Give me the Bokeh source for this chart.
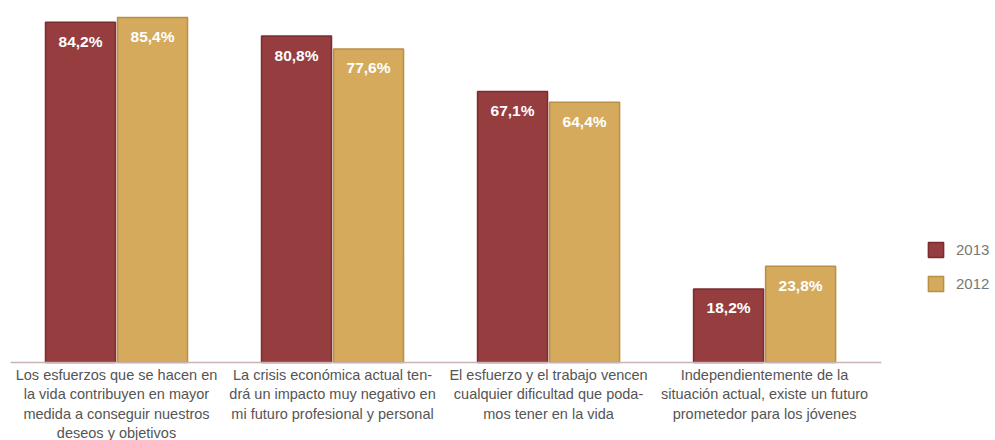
from bokeh.plotting import figure
from bokeh.models import ColumnDataSource, Range1d, Legend, LegendItem
from bokeh.core.properties import value
from bokeh.embed import file_html
from bokeh.resources import INLINE

categories = [
    "Los esfuerzos que se hacen en\nla vida contribuyen en mayor\nmedida a conseguir nuestros\ndeseos y objetivos",
    "La crisis económica actual ten-\ndrá un impacto muy negativo en\nmi futuro profesional y personal",
    "El esfuerzo y el trabajo vencen\ncualquier dificultad que poda-\nmos tener en la vida",
    "Independientemente de la\nsituación actual, existe un futuro\nprometedor para los jóvenes",
]
values_2013 = [84.2, 80.8, 67.1, 18.2]
values_2012 = [85.4, 77.6, 64.4, 23.8]
series_names = ["2013", "2012"]
colors = ["#963d40", "#d5aa5c"]
edge_colors = ["#7a2c2f", "#b88f45"]

def fmt(v):
    return f"{v:.1f}".replace(".", ",") + "%"

idx = list(range(len(categories)))
off = 0.1667
bw = 0.324

p = figure(width=995, height=440, output_backend="svg", toolbar_location=None,
           x_range=Range1d(-0.537, 4.069), y_range=Range1d(-19.3, 89.6),
           min_border=0, min_border_left=0, min_border_right=0,
           min_border_top=0, min_border_bottom=0)
p.axis.visible = False
p.grid.visible = False
p.outline_line_color = None
p.background_fill_color = "white"

renderers = []
for vals, col, ecol, sign in [(values_2013, colors[0], edge_colors[0], -1),
                              (values_2012, colors[1], edge_colors[1], 1)]:
    src = ColumnDataSource(dict(x=[i + sign * off for i in idx], top=vals,
                                lab=[fmt(v) for v in vals]))
    r = p.vbar(x="x", top="top", bottom=0, width=bw, source=src,
               fill_color=col, line_color=ecol, line_width=1.5)
    renderers.append(r)
    p.text(x="x", y="top", text="lab", source=src, text_align="center",
           text_baseline="middle", y_offset=19, text_color="white",
           text_font=value("Liberation Sans"), text_font_style="bold",
           text_font_size="15.5px")

# baseline
p.segment(x0=[-0.49], y0=[0], x1=[3.54], y1=[0], line_color="#c9b4b4", line_width=1.5)

# category labels
p.text(x=idx, y=[0] * len(idx), text=categories, text_align="center",
       text_baseline="top", y_offset=4, text_color="#555555",
       text_font=value("Liberation Sans"), text_font_size="14.5px",
       text_line_height=1.22)

legend = Legend(items=[LegendItem(label=series_names[0], renderers=[renderers[0]]),
                       LegendItem(label=series_names[1], renderers=[renderers[1]])],
                location=(926, 147), orientation="vertical",
                glyph_width=19, glyph_height=19, label_height=19,
                spacing=15, label_standoff=11, padding=0, margin=0,
                border_line_alpha=0, background_fill_alpha=0,
                label_text_color="#777777", label_text_font="Liberation Sans",
                label_text_font_size="15px")
p.add_layout(legend, "center")

open("out.html", "w").write(file_html(p, INLINE))
